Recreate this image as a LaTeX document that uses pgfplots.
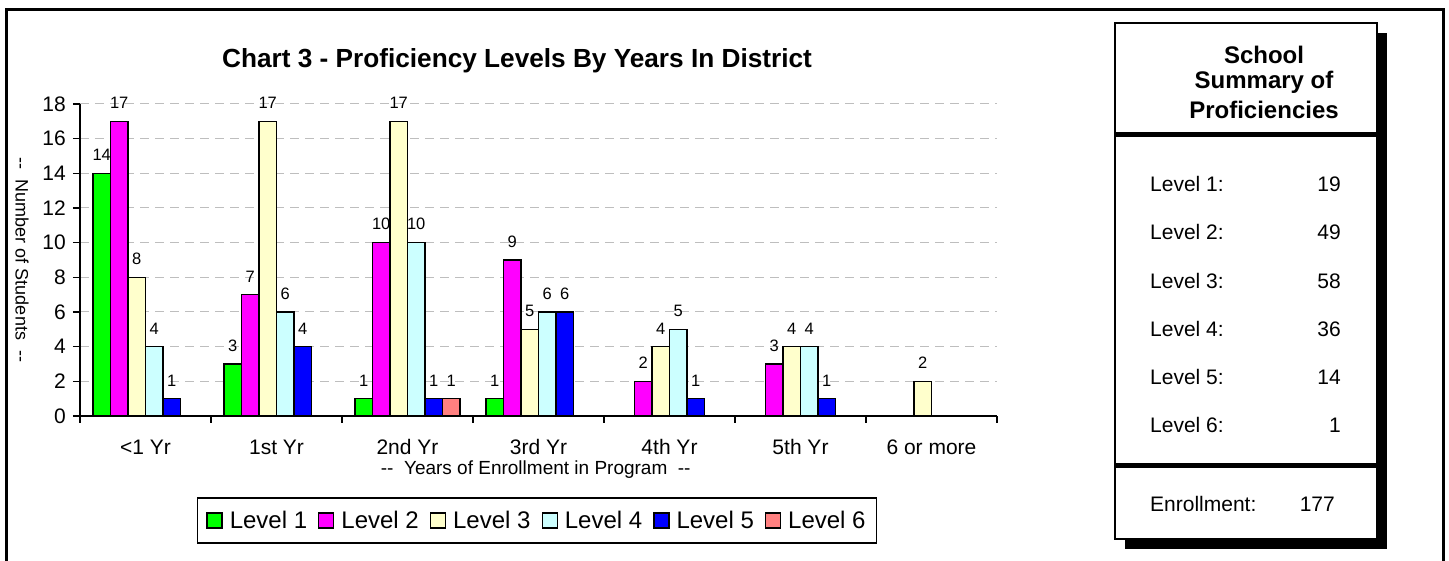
\documentclass[border=0pt]{standalone}
\usepackage{fontspec}
\setmainfont{Liberation Sans}
\usepackage{pgfplots}
\pgfplotsset{compat=1.18}
\definecolor{lvA}{RGB}{0,255,0}
\definecolor{lvB}{RGB}{255,0,255}
\definecolor{lvC}{RGB}{255,255,204}
\definecolor{lvD}{RGB}{204,255,255}
\definecolor{lvE}{RGB}{0,0,255}
\definecolor{lvF}{RGB}{255,128,128}
\definecolor{gridgray}{RGB}{190,190,190}
\newcommand{\fs}[1]{\fontsize{#1pt}{#1pt}\selectfont}
\newcommand{\dd}{{-}{-}}
\begin{document}
\begin{tikzpicture}
\path[use as bounding box] (0pt,0pt) rectangle (1449pt,561pt);
% outer frame
\draw[line width=3pt] (6pt,-2pt) -- (6pt,551pt) -- (1443pt,551pt) -- (1443pt,-2pt);
\begin{axis}[
  at={(80pt,145pt)}, anchor=south west,
  scale only axis, width=917pt, height=312pt,
  xmin=-0.5, xmax=6.5, ymin=0, ymax=18,
  clip=false,
  ybar=0pt, bar width=17.5pt,
  axis x line*=bottom, axis y line*=left,
  axis line style={line width=1.5pt, black},
  xtick={-0.5,0.5,...,6.5},
  xticklabels={},
  extra x ticks={0,1,2,3,4,5,6},
  extra x tick labels={{<1 Yr},{1st Yr},{2nd Yr},{3rd Yr},{4th Yr},{5th Yr},{6 or more}},
  extra x tick style={major tick length=0pt, grid=none,
    xticklabel style={anchor=center, inner sep=0pt, yshift=-31pt}},
  ytick={0,2,...,18},
  major tick length=7pt,
  tick align=outside,
  tick style={line width=1.5pt, black},
  ymajorgrids,
  grid style={gridgray, line width=1pt, dash pattern=on 9pt off 6pt},
  /pgf/number format/assume math mode=true,
  tick label style={font=\fs{21}},
  yticklabel style={anchor=east, inner sep=0pt, xshift=-7pt},
  title={Chart 3 - Proficiency Levels By Years In District},
  title style={at={(axis description cs:0.4766,1.118)}, anchor=center, font=\bfseries\fs{26.2}, inner sep=0pt},
  xlabel={\dd\ \ Years of Enrollment in Program\ \ \dd},
  xlabel style={at={(axis description cs:0.497,-0.173)}, anchor=center, font=\fs{19}, inner sep=0pt},
  ylabel={\dd\ \ Number of Students\ \ \dd},
  ylabel style={at={(axis description cs:-0.0632,0.5)}, anchor=center, rotate=180, font=\fs{18}, inner sep=0pt},
  nodes near coords,
  every node near coord/.append style={font=\fs{16.5}, anchor=south, inner sep=0pt, yshift=12pt, black},
  legend columns=6,
  legend image code/.code={\draw[#1, draw=black, line width=1.3pt] (0pt,-7.5pt) rectangle (15pt,7.5pt);},
  legend style={at={(axis description cs:0.4984,-0.335)}, anchor=center,
    draw=black, line width=1.5pt, font=\fs{24}, inner xsep=9pt, inner ysep=11pt,
    /tikz/every odd column/.append style={column sep=5pt},
    /tikz/every even column/.append style={column sep=9pt},
    nodes={inner sep=2pt}},
]
\addplot[fill=lvA, draw=black, line width=1.3pt] coordinates {(0,14) (1,3) (2,1) (3,1)};
\addplot[fill=lvB, draw=black, line width=1.3pt] coordinates {(0,17) (1,7) (2,10) (3,9) (4,2) (5,3)};
\addplot[fill=lvC, draw=black, line width=1.3pt] coordinates {(0,8) (1,17) (2,17) (3,5) (4,4) (5,4) (6,2)};
\addplot[fill=lvD, draw=black, line width=1.3pt] coordinates {(0,4) (1,6) (2,10) (3,6) (4,5) (5,4)};
\addplot[fill=lvE, draw=black, line width=1.3pt] coordinates {(0,1) (1,4) (2,1) (3,6) (4,1) (5,1)};
\addplot[fill=lvF, draw=black, line width=1.3pt] coordinates {(2,1)};
\legend{Level 1,Level 2,Level 3,Level 4,Level 5,Level 6}
\end{axis}
% summary box
\fill[black] (1125pt,12pt) rectangle (1387pt,528pt);
\draw[fill=white, line width=1.5pt] (1115pt,22pt) rectangle (1377pt,538pt);
\fill[black] (1115pt,423.5pt) rectangle (1377pt,428.5pt);
\fill[black] (1115pt,92.5pt) rectangle (1377pt,97.5pt);
\node[font=\bfseries\fs{24}, anchor=center] at (1264pt,506pt) {School};
\node[font=\bfseries\fs{24}, anchor=center] at (1264pt,479pt) {Summary of};
\node[font=\bfseries\fs{24}, anchor=center] at (1264pt,451pt) {Proficiencies};
\foreach \lab/\val/\yy in {1/19/377, 2/49/328.5, 3/58/280, 4/36/232, 5/14/184, 6/1/136}{
  \node[font=\fs{21}, anchor=west, inner sep=0pt] at (1150pt,\yy pt) {Level \lab:};
  \node[font=\fs{21}, anchor=east, inner sep=0pt] at (1341pt,\yy pt) {\val};
}
\node[font=\fs{21}, anchor=west, inner sep=0pt] at (1150pt,57pt) {Enrollment:};
\node[font=\fs{21}, anchor=east, inner sep=0pt] at (1335pt,57pt) {177};
\end{tikzpicture}
\end{document}
